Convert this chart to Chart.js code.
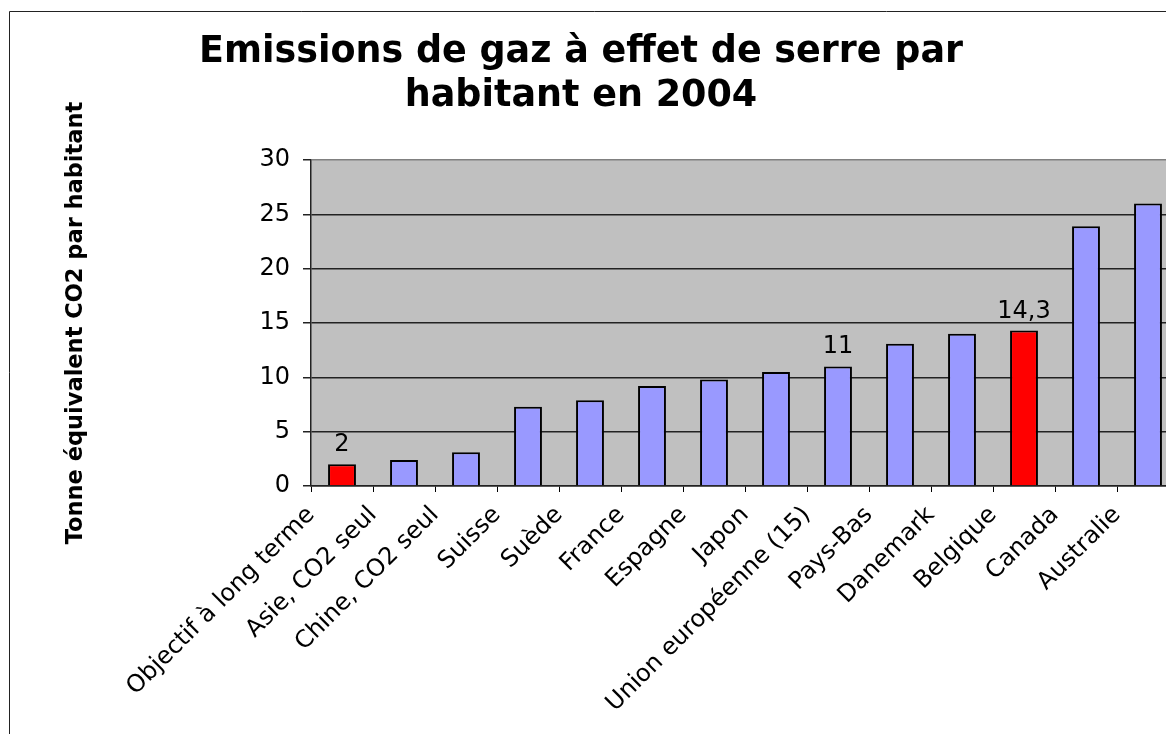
<!DOCTYPE html>
<html>
<head>
<meta charset="utf-8">
<script src="https://cdn.jsdelivr.net/npm/chart.js@4"></script>
<style>
  html, body { margin: 0; padding: 0; background: #fff; overflow: hidden; width: 1166px; height: 734px; }
  #wrap { position: absolute; left: -17px; top: 0; width: 1196px; height: 734px; }
</style>
</head>
<body>
<div id="wrap"><canvas id="chart" width="1196" height="734"></canvas></div>
<script>
"use strict";
const categories = [
  "Objectif à long terme",
  "Asie, CO2 seul",
  "Chine, CO2 seul",
  "Suisse",
  "Suède",
  "France",
  "Espagne",
  "Japon",
  "Union européenne (15)",
  "Pays-Bas",
  "Danemark",
  "Belgique",
  "Canada",
  "Australie",
];
const emissions = [2, 2.4, 3.1, 7.3, 7.9, 9.2, 9.8, 10.5, 11, 13.1, 14, 14.3, 23.9, 26];
const valueLabels = ["2", "", "", "", "", "", "", "", "11", "", "", "14,3", "", ""];
const highlighted = ["Objectif à long terme", "Belgique"];
const yTicks = [0, 5, 10, 15, 20, 25, 30];

const titleLines = ["Emissions de gaz à effet de serre par", "habitant en 2004"];
const yTitle = "Tonne équivalent CO2 par habitant";

// gray plot area + outer frame
const backgroundPlugin = {
  id: "background",
  beforeDraw(chart) {
    const { ctx, chartArea } = chart;
    ctx.save();
    ctx.fillStyle = "#C0C0C0";
    ctx.fillRect(chartArea.left, chartArea.top, chartArea.right - chartArea.left, chartArea.bottom - chartArea.top);
    ctx.strokeStyle = "#222";
    ctx.lineWidth = 1;
    ctx.beginPath();
    ctx.moveTo(26.5, chart.height);
    ctx.lineTo(26.5, 11.5);
    ctx.lineTo(chart.width, 11.5);
    ctx.stroke();
    ctx.restore();
  },
};

// labels on top of some bars
const valueLabelPlugin = {
  id: "valueLabels",
  afterDatasetsDraw(chart) {
    const { ctx } = chart;
    const meta = chart.getDatasetMeta(0);
    ctx.save();
    ctx.font = "24px 'DejaVu Sans'";
    ctx.fillStyle = "#000";
    ctx.textAlign = "center";
    ctx.textBaseline = "alphabetic";
    meta.data.forEach((bar, i) => {
      if (valueLabels[i]) ctx.fillText(valueLabels[i], bar.x, bar.y - 13);
    });
    ctx.restore();
  },
};

const chart = new Chart(document.getElementById("chart"), {
  type: "bar",
  data: {
    labels: categories,
    datasets: [
      {
        data: emissions,
        backgroundColor: (c) => (highlighted.includes(categories[c.dataIndex]) ? "#FF0000" : "#9999FF"),
        borderColor: "#000",
        borderWidth: 2,
        borderSkipped: "bottom",
        barPercentage: 0.45,
        categoryPercentage: 1,
      },
    ],
  },
  options: {
    responsive: false,
    animation: false,
    layout: { padding: 0 },
    plugins: {
      legend: { display: false },
      tooltip: { enabled: false },
      title: {
        display: true,
        text: titleLines,
        color: "#000",
        font: { family: "DejaVu Sans", size: 36.5, weight: "bold", lineHeight: 1.205 },
        padding: { top: 31, bottom: 41 },
      },
    },
    scales: {
      x: {
        grid: { offset: true, drawOnChartArea: false, drawTicks: true, tickLength: 6, color: "#000", tickColor: "#000" },
        border: { color: "#222", width: 1.5 },
        ticks: {
          autoSkip: false,
          minRotation: 45,
          maxRotation: 45,
          labelOffset: -31,
          padding: 9,
          color: "#000",
          font: { family: "DejaVu Sans", size: 24 },
        },
        afterFit: (s) => { s.height = 248; },
      },
      y: {
        min: 0,
        max: 30,
        afterBuildTicks: (s) => { s.ticks = yTicks.map((v) => ({ value: v })); },
        ticks: { padding: 13, color: "#000", font: { family: "DejaVu Sans", size: 24 } },
        grid: {
          color: (c) => (c.tick && c.tick.value === 30 ? "#808080" : "#222"),
          lineWidth: 1.5,
          tickLength: 8,
          tickColor: "#222",
        },
        border: { color: "#222", width: 1.5 },
        title: {
          display: true,
          text: yTitle,
          color: "#000",
          font: { family: "DejaVu Sans", size: 22.5, weight: "bold", lineHeight: 1.2 },
          padding: { top: 80, bottom: 0 },
        },
        afterFit: (s) => { s.width = 328; },
      },
    },
  },
  plugins: [backgroundPlugin, valueLabelPlugin],
});
</script>
</body>
</html>
